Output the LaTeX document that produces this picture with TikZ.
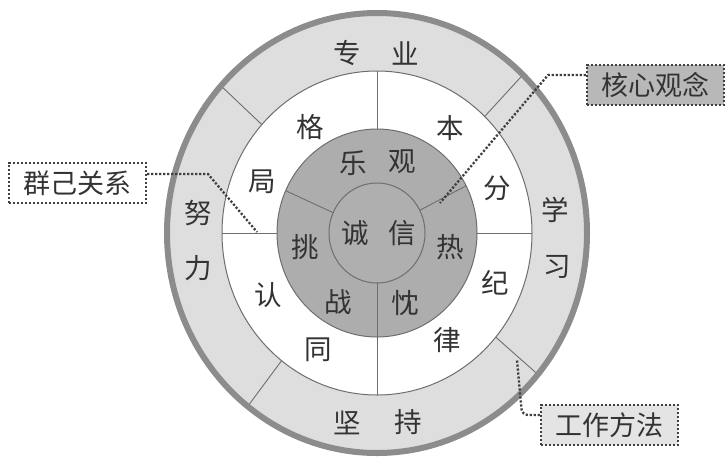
\documentclass[tikz,border=0pt]{standalone}
\usepackage{fontspec}
\newfontfamily\cjk{Noto Sans CJK SC}
\definecolor{outerfill}{HTML}{DEDEDE}
\definecolor{darkfill}{HTML}{ADADAD}
\definecolor{innerfill}{HTML}{AFAFAF}
\definecolor{rimc}{HTML}{8C8C8C}
\definecolor{linec}{HTML}{6E6E6E}
\definecolor{txtc}{HTML}{333333}
\definecolor{lblc}{HTML}{404040}
\definecolor{coreboxfill}{HTML}{B8B8B8}
\definecolor{methodfill}{HTML}{E4E4E4}
\tikzset{
  ringtxt/.style={font=\cjk\fontsize{27.5}{27.5}\selectfont, text=txtc, inner sep=0pt},
  lblbox/.style={font=\cjk\fontsize{27}{27}\selectfont, text=txtc, draw=lblc, line width=2.3pt,
     dash pattern=on 2.2pt off 1.8pt, minimum width=137pt, minimum height=40pt, inner sep=0pt},
  conn/.style={draw=lblc, line width=2.3pt, dash pattern=on 2.2pt off 1.8pt},
  divider/.style={draw=linec, line width=0.9pt},
  ringline/.style={draw=linec, line width=1pt},
}
\begin{document}
\begin{tikzpicture}[x=1pt,y=-1pt]
\useasboundingbox (0,0) rectangle (725,459);
\coordinate (C) at (377,233);
% rings
\fill[outerfill] (C) ellipse [x radius=210pt, y radius=220pt];
\filldraw[fill=white, ringline] (C) ellipse [x radius=155pt, y radius=162pt];
\filldraw[fill=darkfill, ringline] (C) ellipse [x radius=100pt, y radius=104pt];
\filldraw[fill=innerfill, ringline] (C) ellipse [x radius=48pt, y radius=50pt];
% dividers
\begin{scope}[shift={(C)}]
  \foreach \a in {-138,-46,40,128}
    \draw[divider] (\a:155 and 162) -- (\a:210 and 220);
  \foreach \a in {-90,0,90,180}
    \draw[divider] (\a:100 and 104) -- (\a:155 and 162);
  \foreach \a in {-156,-27,90}
    \draw[divider] (\a:48 and 50) -- (\a:100 and 104);
\end{scope}
\draw[draw=rimc, line width=6pt] (C) ellipse [x radius=210pt, y radius=220pt];
% outer ring texts
\node[ringtxt] (zhuan) at (347,53) {专};
\node[ringtxt] (ye) at (405,53) {业};
\node[ringtxt] (xue) at (555,210) {学};
\node[ringtxt] (xi) at (557,267) {习};
\node[ringtxt] (jian) at (347,423) {坚};
\node[ringtxt] (chi) at (408,422) {持};
\node[ringtxt] (nu) at (198,213) {努};
\node[ringtxt] (li) at (198,268) {力};
% white ring texts
\node[ringtxt] (ge) at (310,127) {格};
\node[ringtxt] (ben) at (450,128) {本};
\node[ringtxt] (ju) at (262,182) {局};
\node[ringtxt] (fen) at (497,188) {分};
\node[ringtxt] (ren) at (268,295) {认};
\node[ringtxt] (ji) at (495,283) {纪};
\node[ringtxt] (tong) at (318,350) {同};
\node[ringtxt] (lv) at (447,340) {律};
% dark ring texts
\node[ringtxt] (le) at (353,163) {乐};
\node[ringtxt] (guan) at (402,162) {观};
\node[ringtxt] (tiao) at (305,247) {挑};
\node[ringtxt] (re) at (450,247) {热};
\node[ringtxt] (zhan) at (338,302) {战};
\node[ringtxt] (chen) at (405,303) {忱};
% core
\node[ringtxt] (cheng) at (355,233) {诚};
\node[ringtxt] (xin) at (402,233) {信};
% labels
\node[lblbox, fill=white] (qun) at (77.5,183) {群己关系};
\node[lblbox, fill=coreboxfill] (hx) at (655.5,85) {核心观念};
\node[lblbox, fill=methodfill] (gz) at (609.5,425) {工作方法};
% connectors
\coordinate (k1) at (208,174);
\coordinate (t1) at (257,232);
\draw[conn] (qun.east |- k1) -- (k1) -- (t1);
\coordinate (k2) at (548,75);
\coordinate (t2) at (440,203);
\draw[conn] (hx.west |- k2) -- (k2) -- (t2);
\coordinate (k3) at (522,415);
\coordinate (t3) at (517,360);
\draw[conn, rounded corners=6pt] (gz.west |- k3) -- (k3) -- (t3);
\end{tikzpicture}
\end{document}
